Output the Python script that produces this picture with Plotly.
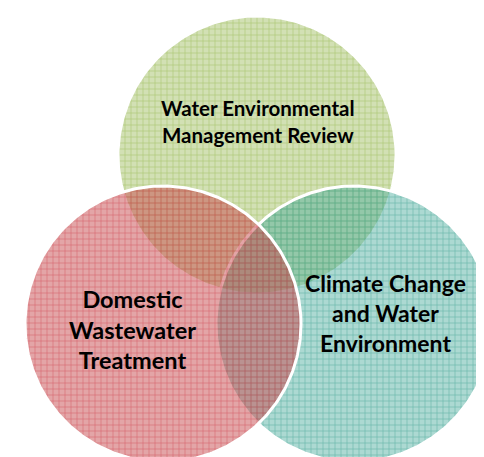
import numpy as np
import plotly.graph_objects as go

# Venn sets (drawing order: bottom to top)
set_labels = ["Water Environmental<br>Management Review",
              "Climate Change<br>and Water<br>Environment",
              "Domestic<br>Wastewater<br>Treatment"]
center_x = [249, 346, 155]
center_y = [147, 316, 316]
radius = [139, 138, 138]
label_x = [250, 377, 124]
label_y = [113, 305, 321]
label_size = [20.5, 23, 23.5]

fill_bg = ["rgba(155,187,89,0.45)", "rgba(70,170,155,0.45)", "rgba(200,75,80,0.5)"]
fill_fg = ["rgba(140,180,70,0.75)", "rgba(40,150,135,0.7)", "rgba(200,50,65,0.7)"]

W, H = 484, 457
fig = go.Figure()
t = np.linspace(0, 2 * np.pi, 361)
for cx, cy, r, bg, fg in zip(center_x, center_y, radius, fill_bg, fill_fg):
    xs = cx + r * np.cos(t)
    ys = cy + r * np.sin(t)
    fig.add_trace(go.Scatter(
        x=xs, y=ys, mode="lines", fill="toself",
        line=dict(width=0, color="rgba(0,0,0,0)"),
        fillcolor=bg,
        fillpattern=dict(shape="+", size=6, solidity=0.15, fgcolor=fg,
                         bgcolor=bg, fillmode="replace"),
        hoverinfo="skip", showlegend=False))
    fig.add_trace(go.Scatter(
        x=xs, y=ys, mode="lines",
        line=dict(width=3, color="white"),
        hoverinfo="skip", showlegend=False))

for txt, x, y, s in zip(set_labels, label_x, label_y, label_size):
    fig.add_annotation(x=x, y=y, text=txt, showarrow=False,
                       font=dict(family="Lato", size=s, color="black", weight="bold"),
                       align="center", xanchor="center", yanchor="middle")

fig.update_xaxes(range=[0, W], visible=False, fixedrange=True)
fig.update_yaxes(range=[H, 0], visible=False, fixedrange=True)
fig.update_layout(width=W, height=H, margin=dict(l=0, r=0, t=0, b=0),
                  plot_bgcolor="white", paper_bgcolor="white")
fig.write_html("out.html")
